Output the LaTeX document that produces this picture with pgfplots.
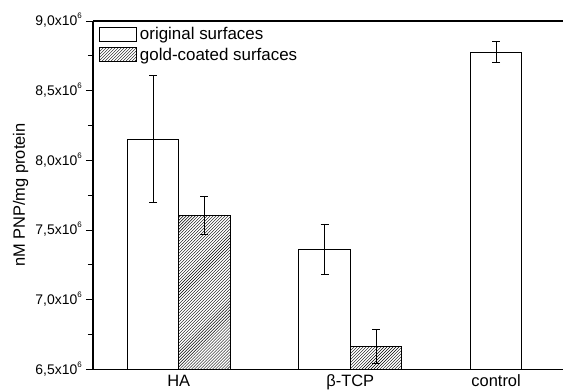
\documentclass[border=0pt]{standalone}
\usepackage{pgfplots}
\pgfplotsset{compat=1.18}
\usetikzlibrary{patterns}
\usepackage{fontspec}
\setmainfont{Liberation Sans}
\newcommand{\ex}[1]{#1x10\raisebox{7bp}{\fontsize{8}{8}\selectfont 6}}
\begin{document}
\begin{tikzpicture}
\begin{axis}[
  scale only axis,
  width=470bp, height=348.3bp,
  xmin=0.5, xmax=3.24,
  ymin=6500000, ymax=9000000,
  axis x line=box, axis y line=left,
  axis line style={-, line width=1.1bp},
  scaled y ticks=false,
  ytick={6500000,7000000,7500000,8000000,8500000,9000000},
  yticklabels={\ex{6,5},\ex{7,0},\ex{7,5},\ex{8,0},\ex{8,5},\ex{9,0}},
  minor y tick num=1,
  tick align=outside,
  major tick length=7bp, minor tick length=5bp,
  ytick style={line width=0.8bp, black},
  yticklabel style={font=\fontsize{14}{16}\selectfont, anchor=base east, inner sep=0pt, xshift=-4bp, yshift=-5bp},
  xtick={1,2,2.85},
  xticklabels={HA,β-TCP,control},
  xtick style={draw=none},
  xticklabel style={font=\fontsize{16.5}{18}\selectfont, anchor=base, inner sep=0pt, yshift=-10.5bp},
  ylabel={nM PNP/mg protein},
  every axis y label/.style={at={([xshift=-68bp]axis description cs:0,0.5)}, rotate=90, anchor=base, inner sep=0pt, font=\fontsize{16.5}{18}\selectfont},
  ybar, bar width=51.5bp, bar shift=0pt,
  legend style={at={(0,1)}, anchor=north west, xshift=6bp, yshift=-5bp, draw=none, fill=none, inner sep=0pt,
    font=\fontsize{17}{19}\selectfont, row sep=5bp,
    nodes={inner xsep=3bp, inner ysep=1bp, anchor=west}},
  legend cell align=left,
  legend image code/.code={\draw[#1, draw=black, line width=0.8bp] (0bp,-7bp) rectangle (37bp,7bp);},
  error bars/y dir=both, error bars/y explicit,
  error bars/error bar style={line width=0.8bp, black},
  error bars/error mark options={rotate=90, mark size=4bp, line width=0.8bp, black},
]
\addplot[draw=black, fill=white, line width=0.8bp] coordinates {
  (0.85,8152000) +- (0,456000)
  (1.85,7363000) +- (0,180000)
  (2.85,8777000) +- (0,74000)
};
\addlegendentry{original surfaces}
\addplot[draw=black, pattern=north east lines, pattern color=black, line width=0.8bp] coordinates {
  (1.15,7607000) +- (0,137000)
  (2.15,6665000) +- (0,123000)
};
\addlegendentry{gold-coated surfaces}
\end{axis}
\pgfresetboundingbox
\path[use as bounding box] ([shift={(-93bp,-21bp)}]current axis.south west) rectangle ([shift={(470bp,369.3bp)}]current axis.south west);
\end{tikzpicture}
\end{document}
